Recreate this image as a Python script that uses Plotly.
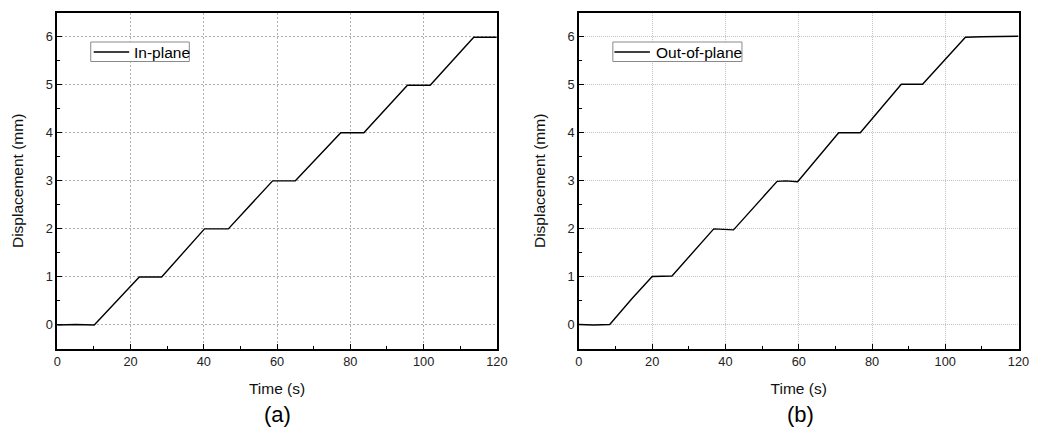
import plotly.graph_objects as go

# In-plane displacement (panel a)
t_in = [0, 5, 10.1, 22.4, 28.5, 40.2, 46.7, 58.8, 65.0, 77.4, 83.7, 95.6, 101.8, 113.7, 120]
d_in = [0, 0.01, 0, 1.0, 1.0, 2.0, 2.0, 3.0, 3.0, 4.0, 4.0, 4.99, 4.99, 5.99, 5.99]

# Out-of-plane displacement (panel b)
t_out = [0, 4, 8.4, 14.5, 20.0, 25.4, 36.8, 42.2, 54.1, 56.5, 59.7, 70.9, 76.8, 88.0, 93.8, 105.5, 110, 120]
d_out = [0.01, 0.0, 0.01, 0.55, 1.01, 1.02, 2.0, 1.98, 2.99, 3.0, 2.98, 4.0, 4.0, 5.01, 5.01, 5.99, 6.0, 6.01]

series_names = ["In-plane", "Out-of-plane"]
panel_labels = ["(a)", "(b)"]
x_ticks = [0, 20, 40, 60, 80, 100, 120]
y_ticks = [0, 1, 2, 3, 4, 5, 6]

W, H = 1046, 429
FONT = "Liberation Sans, Arial, sans-serif"

fig = go.Figure()
fig.add_trace(go.Scatter(x=t_in, y=d_in, mode="lines", name=series_names[0],
                         line=dict(color="black", width=1.4),
                         xaxis="x", yaxis="y", showlegend=False))
fig.add_trace(go.Scatter(x=t_out, y=d_out, mode="lines", name=series_names[1],
                         line=dict(color="black", width=1.4),
                         xaxis="x2", yaxis="y2", showlegend=False))

ydom = [1 - 349 / H, 1 - 12.7 / H]
xdom1 = [54 / W, 500 / W]
xdom2 = [583.3 / W, 1029.3 / W]


def xaxis(dom, anchor, gridc, dash):
    return dict(domain=dom, anchor=anchor, range=[0, 120], tickvals=x_ticks,
                showline=True, mirror=True, linecolor="black", linewidth=1.5,
                ticks="inside", ticklen=5, tickcolor="black", tickwidth=1.3,
                minor=dict(ticks="inside", ticklen=3, dtick=10, tick0=0,
                           tickcolor="black", showgrid=False),
                showgrid=True, gridcolor=gridc, griddash=dash, gridwidth=1,
                zeroline=False, tickfont=dict(size=12.8, color="#222", family=FONT),
                title=dict(text="Time (s)", font=dict(size=15.5, color="#111", family=FONT), standoff=15))


def yaxis(dom, anchor, gridc, dash):
    return dict(domain=dom, anchor=anchor, range=[-0.5, 6.5], tickvals=y_ticks,
                showline=True, mirror=True, linecolor="black", linewidth=1.5,
                ticks="inside", ticklen=5, tickcolor="black", tickwidth=1.3,
                minor=dict(ticks="inside", ticklen=3, dtick=0.5, tick0=0,
                           tickcolor="black", showgrid=False),
                showgrid=True, gridcolor=gridc, griddash=dash, gridwidth=1,
                zeroline=False, tickfont=dict(size=12.8, color="#222", family=FONT),
                title=dict(text="Displacement (mm)", font=dict(size=15.5, color="#111", family=FONT), standoff=18))


def px(x):
    return x / W


def py(y):
    return 1 - y / H


# legend boxes (pixel geometry): box x0, x1, line x0, line x1, text x
legend_geo = [(88, 188, 91, 127, 130), (617.7, 748.7, 619.3, 655.3, 659)]
shapes = []
annotations = []
for (bx0, bx1, lx0, lx1, tx), name in zip(legend_geo, series_names):
    shapes.append(dict(type="rect", xref="paper", yref="paper",
                       x0=px(bx0), x1=px(bx1), y0=py(61.5), y1=py(42),
                       line=dict(color="#8a8a8a", width=1), fillcolor="white", layer="above"))
    shapes.append(dict(type="line", xref="paper", yref="paper",
                       x0=px(lx0), x1=px(lx1), y0=py(52), y1=py(52),
                       line=dict(color="black", width=1.4), layer="above"))
    annotations.append(dict(text=name, x=px(tx), y=py(52), xref="paper", yref="paper",
                            xanchor="left", yanchor="middle", showarrow=False,
                            font=dict(size=15.5, color="black", family=FONT)))

for cx, lab in zip([277, 807.7], panel_labels):
    annotations.append(dict(text=lab, x=px(cx), y=py(414), xref="paper", yref="paper",
                            xanchor="center", yanchor="middle", showarrow=False,
                            font=dict(size=22, color="black", family=FONT)))

fig.update_layout(
    width=W, height=H, margin=dict(l=0, r=0, t=0, b=0),
    paper_bgcolor="white", plot_bgcolor="white",
    font=dict(family=FONT, color="black"),
    xaxis=xaxis(xdom1, "y", "#b0b0b0", "2px,2px"), yaxis=yaxis(ydom, "x", "#b0b0b0", "2px,2px"),
    xaxis2=xaxis(xdom2, "y2", "#c4c4c4", "1px,1px"), yaxis2=yaxis(ydom, "x2", "#c4c4c4", "1px,1px"),
    showlegend=False,
    shapes=shapes,
    annotations=annotations,
)

fig.write_html("out.html")
